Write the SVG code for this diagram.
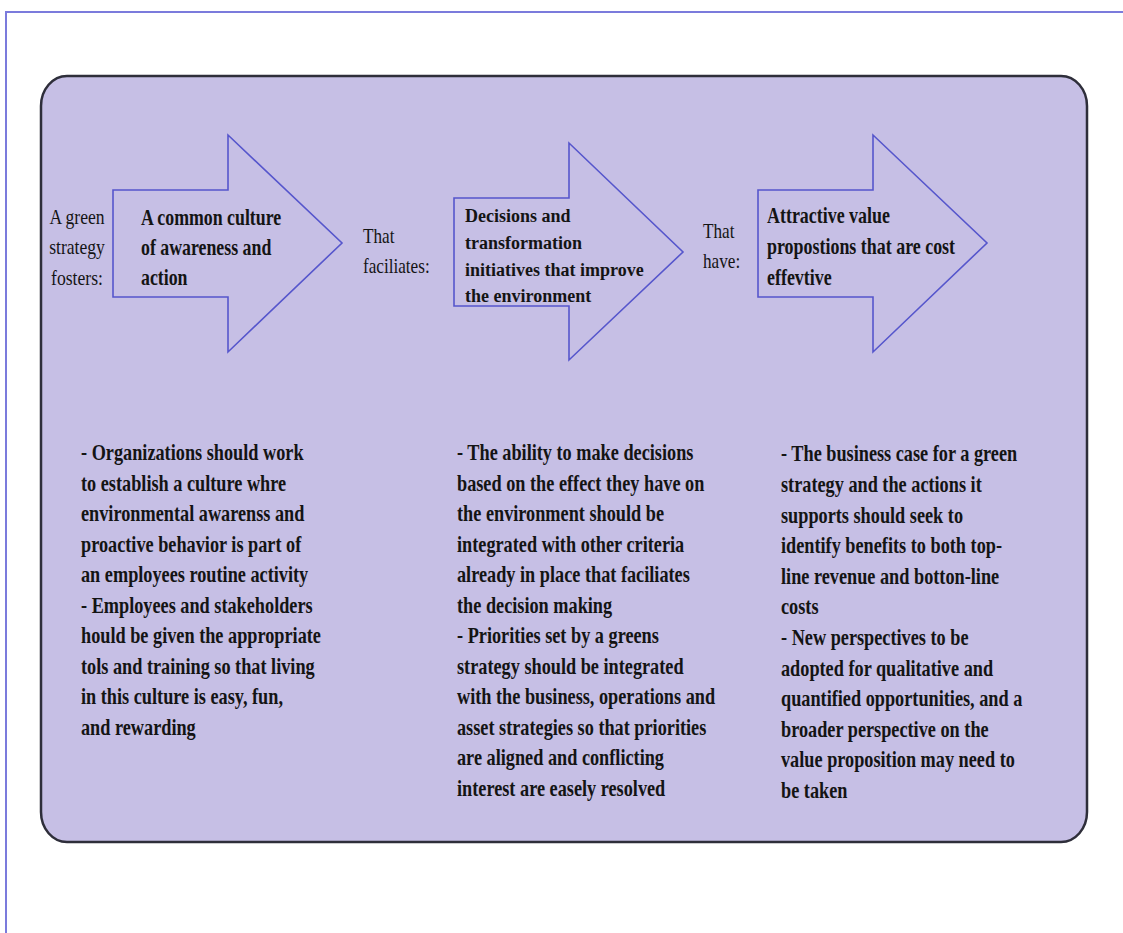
<svg xmlns="http://www.w3.org/2000/svg" width="1123" height="933" viewBox="0 0 1123 933">
<style>
.frame{fill:none;stroke:#7b7bdc;stroke-width:2}
.panel{fill:#c6bfe5;stroke:#2e2e3a;stroke-width:2.5}
.arrow{fill:none;stroke:#5656cc;stroke-width:1.6;stroke-linejoin:miter}
.b{font-family:"Liberation Serif","Times New Roman",serif;font-weight:bold;font-size:23px;fill:#141414}
.b18{font-family:"Liberation Serif","Times New Roman",serif;font-weight:bold;font-size:18px;fill:#141414}
.r{font-family:"Liberation Serif","Times New Roman",serif;font-size:22px;fill:#141414}
</style>
<rect width="1123" height="933" fill="#ffffff"/>
<path class="frame" d="M1123 12 H6 V933"/>
<rect class="panel" x="41" y="76" width="1046" height="766" rx="26" ry="30"/>

<g id="label-fosters" transform="translate(77 0) scale(0.8 1)">
<text class="r" text-anchor="middle" x="0" y="224">A green</text>
<text class="r" text-anchor="middle" x="0" y="254">strategy</text>
<text class="r" text-anchor="middle" x="0" y="285">fosters:</text>
</g>

<g id="arrow-culture">
<path class="arrow" d="M113 190 H228 V135 L342 243 L228 352 V297 H113 Z"/>
<g transform="translate(141 0) scale(0.775 1)">
<text class="b" x="0" y="225">A common culture</text>
<text class="b" x="0" y="255">of awareness and</text>
<text class="b" x="0" y="285">action</text>
</g>
</g>

<g id="label-faciliates" transform="translate(363 0) scale(0.78 1)">
<text class="r" x="0" y="243">That</text>
<text class="r" x="0" y="273">faciliates:</text>
</g>

<g id="arrow-decisions">
<path class="arrow" d="M454 198 H569 V143 L683 252 L569 360 V306 H454 Z"/>
<text class="b18" x="465" y="222">Decisions and</text>
<text class="b18" x="465" y="249">transformation</text>
<text class="b18" x="465" y="275.5">initiatives that improve</text>
<text class="b18" x="465" y="302">the environment</text>
</g>

<g id="label-have" transform="translate(703 0) scale(0.78 1)">
<text class="r" x="0" y="238">That</text>
<text class="r" x="0" y="268">have:</text>
</g>

<g id="arrow-value">
<path class="arrow" d="M758 190 H873 V135 L987 243 L873 352 V297 H758 Z"/>
<g transform="translate(767 0) scale(0.78 1)">
<text class="b" x="0" y="223">Attractive value</text>
<text class="b" x="0" y="254">propostions that are cost</text>
<text class="b" x="0" y="285">effevtive</text>
</g>
</g>

<g id="text-culture" transform="translate(81 0) scale(0.794 1)">
<text class="b" x="0" y="460">- Organizations should work</text>
<text class="b" x="0" y="490.6">to establish a culture whre</text>
<text class="b" x="0" y="521.1">environmental awarenss and</text>
<text class="b" x="0" y="551.7">proactive behavior is part of</text>
<text class="b" x="0" y="582.2">an employees routine activity</text>
<text class="b" x="0" y="612.8">- Employees and stakeholders</text>
<text class="b" x="0" y="643.4">hould be given the appropriate</text>
<text class="b" x="0" y="673.9">tols and training so that living</text>
<text class="b" x="0" y="704.5">in this culture is easy, fun,</text>
<text class="b" x="0" y="735">and rewarding</text>
</g>

<g id="text-decisions" transform="translate(457 0) scale(0.794 1)">
<text class="b" x="0" y="460.5">- The ability to make decisions</text>
<text class="b" x="0" y="491">based on the effect they have on</text>
<text class="b" x="0" y="521.5">the environment should be</text>
<text class="b" x="0" y="552">integrated with other criteria</text>
<text class="b" x="0" y="582.5">already in place that faciliates</text>
<text class="b" x="0" y="613">the decision making</text>
<text class="b" x="0" y="643.5">- Priorities set by a greens</text>
<text class="b" x="0" y="674">strategy should be integrated</text>
<text class="b" x="0" y="704.5">with the business, operations and</text>
<text class="b" x="0" y="735">asset strategies so that priorities</text>
<text class="b" x="0" y="765.5">are aligned and conflicting</text>
<text class="b" x="0" y="796">interest are easely resolved</text>
</g>

<g id="text-value" transform="translate(781 0) scale(0.794 1)">
<text class="b" x="0" y="461.5">- The business case for a green</text>
<text class="b" x="0" y="492">strategy and the actions it</text>
<text class="b" x="0" y="522.6">supports should seek to</text>
<text class="b" x="0" y="553.2">identify benefits to both top-</text>
<text class="b" x="0" y="583.8">line revenue and botton-line</text>
<text class="b" x="0" y="614.4">costs</text>
<text class="b" x="0" y="645">- New perspectives to be</text>
<text class="b" x="0" y="675.6">adopted for qualitative and</text>
<text class="b" x="0" y="706.2">quantified opportunities, and a</text>
<text class="b" x="0" y="736.8">broader perspective on the</text>
<text class="b" x="0" y="767.4">value proposition may need to</text>
<text class="b" x="0" y="798">be taken</text>
</g>

<g id="connectors"></g>
</svg>
